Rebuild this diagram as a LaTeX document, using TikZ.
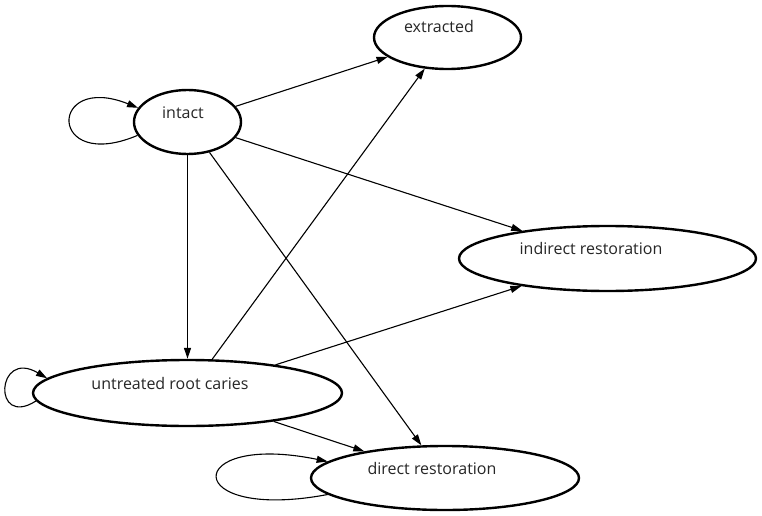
\documentclass[tikz,border=0pt]{standalone}
\usepackage{fontspec}
\setmainfont{Open Sans}
\usepackage{tikz}
\usetikzlibrary{shapes.geometric,arrows.meta}

\begin{document}
\begin{tikzpicture}[x=1pt, y=-1pt,
                % styles for the states
                statenode/.style={ellipse, draw=black, line width=2.4pt, fill=white, inner sep=0pt},
                statetext/.style={anchor=base, font=\fontsize{16}{19}\selectfont, text=black!85},
                % styles for the transitions
                trans/.style={draw=black, line width=1.1pt, -{Triangle[length=11pt,width=7pt]}},
                selfloop/.style={trans}
            ]
                \useasboundingbox (0,0) rectangle (762,516);

                % --- STATES ---
                \node[statenode, minimum width=107pt, minimum height=64pt] (intact) at (187.5,122) {};
                \node[statenode, minimum width=147pt, minimum height=63pt] (extracted) at (447.5,37.5) {};
                \node[statenode, minimum width=297pt, minimum height=65pt] (indirect) at (607.5,258.5) {};
                \node[statenode, minimum width=309pt, minimum height=66pt] (untreated) at (187.5,393) {};
                \node[statenode, minimum width=268pt, minimum height=64pt] (direct) at (445,478) {};

                % --- LABELS ---
                \node[statetext] (intact-t) at (183,118) {intact};
                \node[statetext] (extracted-t) at (439,33) {extracted};
                \node[statetext] (indirect-t) at (591,254) {indirect restoration};
                \node[statetext] (untreated-t) at (170,389) {untreated root caries};
                \node[statetext] (direct-t) at (432,474) {direct restoration};

                % --- TRANSITIONS ---
                \draw[trans] (intact) -- (extracted);
                \draw[trans] (intact) -- (indirect);
                \draw[trans] (intact.south) -- (untreated.north);
                \draw[trans] (intact) -- (direct);
                \draw[trans] (untreated) -- (extracted);
                \draw[trans] (untreated) -- (indirect);
                \draw[trans] (untreated) -- (direct);

                % self loops
                \draw[selfloop] (intact.195) .. controls +(-90,38) and +(-90,-36) .. (intact.164);
                \draw[selfloop] (untreated.183) .. controls +(-44,28) and +(-51,-30) .. (untreated.174);
                \draw[selfloop] (direct.188) .. controls +(-148,28) and +(-146,-30) .. (direct.172);

            \end{tikzpicture}
\end{document}
